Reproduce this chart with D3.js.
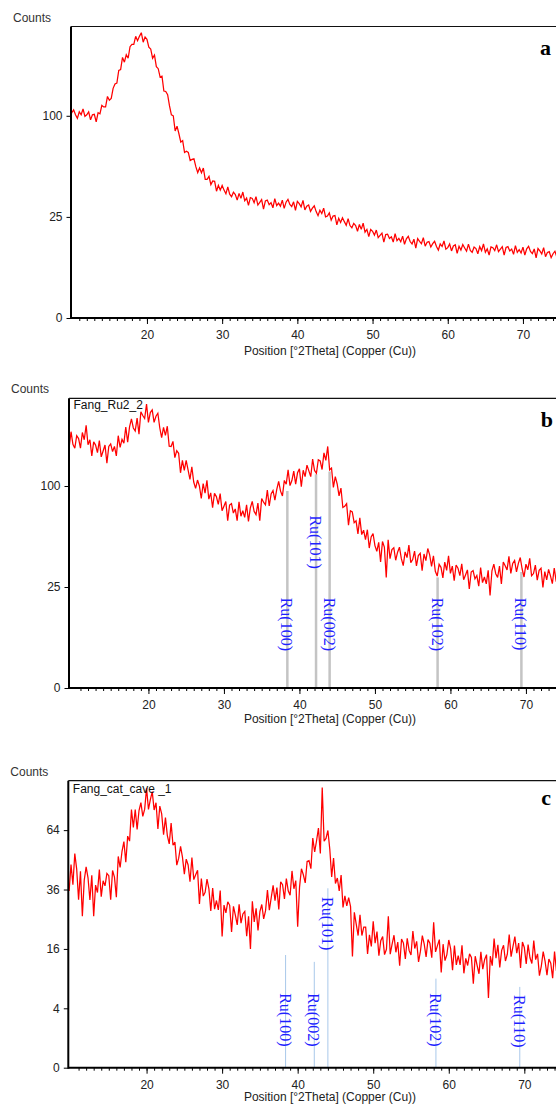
<!DOCTYPE html>
<html>
<head>
<meta charset="utf-8">
<script src="https://d3js.org/d3.v7.min.js"></script>
<style>
  body { margin: 0; background: #fff; }
  text { font-family: "Liberation Sans", Arial, sans-serif; }
</style>
</head>
<body>
<svg width="556" height="1105"></svg>
<script>
// 2theta of the first value and the step between values (degrees)
var thetaStart = 9.5, thetaStep = 0.25;

// panel a, counts
var countsA = [104,99,103,106,101,97.5,
  104,101,107,99.5, 101,104,96,101, 101.5,94,103,102, 110.5,109,109,120, 116,118,129,134,
  135,150,151,166, 160,169.5,165,180, 183,183,194,188, 194,199,186,193, 190,179.5,177,165,
  169,154.5,152,142, 143,126,125.5,122, 110,101,100,85.6, 90,83,75.7,77, 67,68,67,60.6,
  61.5,62,56,51.7, 55,51.6,55,47, 47,49,43.5,46, 45.7,39.3,43,40, 43,40,37.7,42,
  37.5,36,38.7,37.3, 34,38,35,38.8, 33.6,35.2,31,35.5, 35,32.5,36,31.2, 32.7,34.3,29,33.5,
  34,31.4,32.5,29.7, 34.8,30.9,32.3,30.6, 34,29.4,32.8,34.4, 31.5,30.4,33,28.3, 33.3,32,30.2,33.8,
  28.6,30.6,31.2,27.8, 29.5,30.8,27.7,25.6, 28.4,26.7,29.5,25, 25.4,27,23.4,25.4, 25.7,21.2,24.3,22.3,
  24.6,22.7,21,24.1, 20.9,19.9,21.9,20.9, 18.4,21.4,19.2,22, 18,19.2,16.2,19.2, 18.4,16.8,18.9,15.8,
  16.7,17.6,14.1,17, 17.2,15.5,16.1,14.1, 17.4,14.6,15.5,14.2, 16.4,13.3,15.3,16.3, 14.3,13.4,15.2,11.9,
  15.4,14.4,13.5,15.8, 12.6,14,14.3,12.3, 13.5,14.4,12.5,11.3, 13.4,12.5,14.5,11.6, 12.1,13.4,11,12.7,
  13.1,10.2,12.6,11.3, 13.2,12,10.9,13.35, 11.2,10.55,12.3,11.8, 10.1,12.45,11.1,13.4, 10.55,11.7,9.7,12.35,
  12.1,11.1,13.1,10.8, 11.6,12.45,9.7,12.15, 12.45,11,11.6,9.9, 12.8,10.55,11.4,10.35, 12.3,9.7,11.7,12.6,
  10.8,10.15,11.65,8.85, 11.8,11,10.05,12.1, 9.2,10.5,10.75,8.9, 10.1,10.9,9.15,8.1, 10.15];

// panel b, Fang_Ru2_2
var countsB = [142,161,145.6,141,156,152.5,
  141,160,151,169, 145,151,132,148.5, 144.6,135.7,150,131, 137.6,144.7,124,143, 146,137,143,132,
  156,142,151.5,147, 167,148,167,177.5, 165.7,162,178.5,158, 187,182,178,197.6, 173,186,189.5,173,
  181,185,166,153.6, 166.6,156.5,168,143.4, 143,149,130,138, 135,113.5,127,116, 127,116.6,106.6,120,
  104,97.6,106,100, 88,102.5,93,105.7, 87.4,93.3,79.8,93, 89.8,82.7,92.7,77, 81,85.3,68.7,82,
  83.3,75,78.6,68.7, 85,72.3,77,71.3, 82.3,68,79.6,85.4, 76.4,73.7,83.8,68.6, 88,84.6,82.2,96,
  81.2,92.3,95.6,86.6, 96.8,104.7,95,90.4, 105.6,101.8,116.7,100.4, 105.5,115.3,101.8,113.5, 117.7,99.3,116.2,109.5,
  121.7,115.6,109.5,128.4, 116,113,127.7,126.3, 117,135.5,127,143, 116.7,118.6,98.7,109.5, 102,90.5,98,79.9,
  81,83.3,65,77, 76,67,68.5,58.2, 71,57.7,61,54, 61.4,48,56,58.5, 49.7,45.8,52,39,
  52.6,48.7,30,53.8, 41,47,48.2,40, 45.2,48.6,41,36.7, 45.4,41.7,50,38.5, 40.4,45.9,36.5,43,
  44.5,33.8,44,39.8, 47.7,43.4,36.2,42.8, 33.4,30.7,37.5,35.7, 29.7,38.9,33.9,42.8, 32.2,36.4,28.2,37.1,
  35.2,30.9,37.8,28.7, 31.3,34.2,24,33, 33.8,29.2,31,25.4, 35.6,27.2,30.2,26.6, 33.9,21,33.7,37.6,
  32,30,36.4,26.5, 38.9,36.6,34.2,42.5, 32.2,38,39.9,33, 38.1,41.7,34.7,30.2, 37.6,34.3,41.2,30.9,
  32.1,37,28.5,33.9, 35.1,24.8,33.2,28.7, 34.5,30.8,26.7,35.3, 28,26.1,32.3,30.7, 25.1];

// panel c, Fang_cat_cave _1
var countsC = [41.5,35.4,46.8,38,52,44.7,
  32,43.7,26,39.9, 45.7,40.9,31.9,42, 26,37.8,34.8,44.5, 33.2,39.6,37.5,42.8, 41.8,32,44.1,41.2,
  33,50.6,45.5,53.1, 58,47.9,60.8,58.2, 75.6,65.5,75.5,64.4, 75,79.7,71.6,75.8, 88.6,75.6,81.5,86.4,
  75.3,79.6,64.6,77.6, 73,61.6,70.9,61.1, 56.8,67.8,56.1,57.7, 46.5,49.8,55.5,50.3, 42.5,49.3,46.6,39.2,
  50.1,40.1,42.2,44.2, 30.4,40.6,33.4,34.9, 40.3,36.3,27.9,36.6, 28.5,31.7,28.2,35.6, 19.5,30,27.2,31.2,
  29.9,20.9,29.5,26.4, 23.1,30.3,23.7,26.8, 27.7,19.6,26,16, 31.4,24.1,28.8,21.4, 27.6,30.2,25.1,28,
  35.8,28.1,32.8,37.7, 31.6,36.8,28.4,39.2, 38,32.3,40.6,35.5, 33.7,43.9,36.3,39.7, 22.5,37.1,44.9,42.2,
  38.7,48.2,48.6,44.9, 59.8,52.8,58.4,65.1, 52,89,58.2,59.6, 63.8,54.2,41.3,49.8, 38.5,40.8,35.4,42.1,
  29.1,33.5,29.7,32.8, 29.4,14,27.4,23.4, 19.8,26.5,19.8,22.4, 22.4,14.7,20,16.7, 24.3,17.6,21,14.2,
  18.3,19.5,14.5,15.9, 26,14.6,17.3,19.9, 15.1,17.9,11.8,18.8, 17.6,13.4,19,15.6, 14.4,21.2,16.1,18.1,
  12.7,15.4,19.8,17.3, 13.9,18.6,17.6,13.7, 24,15.2,16.9,18.6, 10.3,17.3,13,14.5, 18.5,16,10.8,16.9,
  12,14.25,12,17, 10.1,13.55,11.85,14.7, 13.8,8,14.1,11.9, 10,15.2,11,13.3, 14.5,5.5,14.1,11.8,
  18.9,13.6,17.1,11.4, 15.6,17,12.9,14.6, 20.1,14,16.7,19.5, 14.9,17.6,11.3,17.9, 16.4,12.2,17.2,13.7,
  12.3,18.3,13.25,14.7, 9.6,11.7,15.3,12.8, 9.7,13.4,12.4,9.1, 15.3,10.6,12.2,13.8, 6.9];

var yTicksA = [0, 25, 100];
var yTicksB = [0, 25, 100];
var yTicksC = [0, 4, 16, 36, 64];
var xTickLabels = [20, 30, 40, 50, 60, 70];

// Ru reference peaks
var peakPos = [38.4, 42.2, 44.0, 58.3, 69.4];
var peakNamesB = ["Ru(100)", "Ru(101)", "Ru(002)", "Ru(102)", "Ru(110)"];
var peakNamesC = ["Ru(100)", "Ru(002)", "Ru(101)", "Ru(102)", "Ru(110)"];
var peakTopB = [95, 112, 115, 30, 33];
var peakTopC = [14.4, 12.7, 36.5, 9, 7.4];
var labelAtB = [20, 73, 20, 20, 20];
var labelAtC = [6.3, 6.3, 33, 6.3, 6.0];

var svg = d3.select("svg");
var W = 556;

var panels = [
  {id: "a", counts: countsA, yTicks: yTicksA, left: 71, top: 26.5, bottom: 318, xMin: 9.9, ppd: 7.52, yMax: 207.8,
    letterX: 551, letterDy: 28.5, titleDy: 36.5},
  {id: "b", counts: countsB, yTicks: yTicksB, left: 69, top: 398.3, bottom: 688, xMin: 9.48, ppd: 7.55, yMax: 205.7,
    letterX: 553, letterDy: 28.7, titleDy: 35,
    name: "Fang_Ru2_2", nameDy: 10.7, peakTop: peakTopB, peakNames: peakNamesB, labelAt: labelAtB, peakColor: "#c4c4c4", peakWidth: 2.5},
  {id: "c", counts: countsC, yTicks: yTicksC, left: 68.3, top: 780.7, bottom: 1067.7, xMin: 9.64, ppd: 7.555, yMax: 93.4,
    letterX: 551, letterDy: 24.3, titleDy: 33.5,
    name: "Fang_cat_cave _1", nameDy: 12.5, peakTop: peakTopC, peakNames: peakNamesC, labelAt: labelAtC, peakColor: "#a9c8ea", peakWidth: 1}
];

panels.forEach(function(p) {
  var x = d3.scaleLinear().domain([p.xMin, 75]).range([p.left, p.left + (75 - p.xMin) * p.ppd]);
  var y = d3.scaleSqrt().domain([0, p.yMax]).range([p.bottom, p.top]);
  var g = svg.append("g");

  g.append("clipPath").attr("id", "clip-" + p.id)
    .append("rect").attr("x", p.left).attr("y", p.top)
    .attr("width", W - p.left).attr("height", p.bottom - p.top);

  var plot = g.append("g").attr("clip-path", "url(#clip-" + p.id + ")");

  if (p.peakTop) {
    plot.selectAll(".peak").data(peakPos).enter().append("line")
      .attr("x1", function(d) { return x(d); }).attr("x2", function(d) { return x(d); })
      .attr("y1", y(0)).attr("y2", function(d, i) { return y(p.peakTop[i]); })
      .attr("stroke", p.peakColor).attr("stroke-width", p.peakWidth);
  }

  var line = d3.line()
    .x(function(d, i) { return x(thetaStart + i * thetaStep); })
    .y(function(d) { return y(d); });

  plot.append("path").datum(p.counts)
    .attr("d", line).attr("fill", "none")
    .attr("stroke", "#ff0000").attr("stroke-width", 1.25)
    .attr("stroke-linejoin", "miter").attr("stroke-miterlimit", 3);

  if (p.peakNames) {
    plot.selectAll(".plabel").data(peakPos).enter().append("text")
      .attr("transform", function(d, i) {
        return "translate(" + (x(d) - 6) + "," + y(p.labelAt[i]) + ") rotate(90)";
      })
      .style("font-family", "'Liberation Serif', 'Times New Roman', serif")
      .style("font-size", "16px")
      .attr("fill", "#1f1fff")
      .text(function(d, i) { return p.peakNames[i]; });
  }

  // minor and major x ticks
  var minor = g.append("g").attr("transform", "translate(0," + p.bottom + ")")
    .call(d3.axisBottom(x).tickValues(d3.range(11, 76)).tickSize(3).tickFormat(""));
  var major = g.append("g").attr("transform", "translate(0," + p.bottom + ")")
    .call(d3.axisBottom(x).tickValues(xTickLabels).tickSize(6).tickPadding(6.5).tickFormat(d3.format("d")));
  var yax = g.append("g").attr("transform", "translate(" + p.left + ",0)")
    .call(d3.axisLeft(y).tickValues(p.yTicks).tickSize(4.5).tickPadding(4).tickFormat(d3.format("d")));

  [minor, major, yax].forEach(function(a) {
    a.select(".domain").remove();
    a.selectAll("line").attr("stroke", "#000");
    a.selectAll("text").attr("fill", "#222").style("font-size", "12px")
      .style("font-family", "'Liberation Sans', Arial, sans-serif");
  });

  // frame
  g.append("line").attr("x1", p.left).attr("x2", W).attr("y1", p.bottom).attr("y2", p.bottom)
    .attr("stroke", "#000").attr("stroke-width", 2);
  g.append("line").attr("x1", p.left).attr("x2", p.left).attr("y1", p.top).attr("y2", p.bottom + 1)
    .attr("stroke", "#000").attr("stroke-width", 2);
  g.append("line").attr("x1", p.left).attr("x2", W).attr("y1", p.top).attr("y2", p.top)
    .attr("stroke", "#111").attr("stroke-width", 1.2);

  g.append("text").attr("x", p.left - 58).attr("y", p.top - 5)
    .attr("fill", "#333").style("font-size", "12px").text("Counts");

  g.append("text").attr("x", 330).attr("y", p.bottom + p.titleDy)
    .attr("text-anchor", "middle").attr("fill", "#222").style("font-size", "12px")
    .text("Position [°2Theta] (Copper (Cu))");

  if (p.name) {
    g.append("text").attr("x", p.left + 4.5).attr("y", p.top + p.nameDy)
      .attr("fill", "#111").style("font-size", "12px").text(p.name);
  }

  g.append("text").attr("x", p.letterX).attr("y", p.top + p.letterDy)
    .attr("text-anchor", "end")
    .style("font-family", "'Liberation Serif', 'Times New Roman', serif")
    .style("font-weight", "bold").style("font-size", "22px")
    .attr("fill", "#000").text(p.id);
});
</script>
</body>
</html>
